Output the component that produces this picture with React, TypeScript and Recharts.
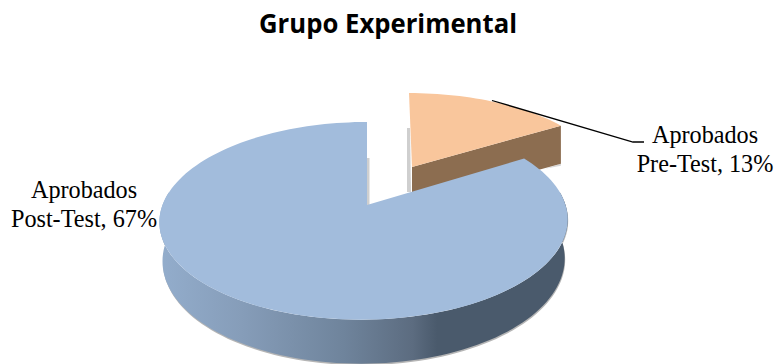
import { Pie, PieChart } from "recharts";

const categories = ["Aprobados Pre-Test", "Aprobados Post-Test"];
const percentages = [13, 67];
const topColors = ["#f9c69c", "#a2bcdc"];

const pieData = categories.map((name, i) => ({ name, value: percentages[i] }));

const PERSPECTIVE = 0.16;
const TILT = 0.478;

// how each slice sits in the fake 3d view, relative to the pie centre
const sliceViews = [
  { dx: 45, dy: -38, scaleX: 0.958, scaleY: 0.89, shift: -3, lean: 0 },
  { dx: 0, dy: 0, scaleX: 1, scaleY: 1, shift: 0, lean: 3 },
];

const labelSpots = [
  { x: 705, y: 143 },
  { x: 84, y: 198 },
];

const RAD = Math.PI / 180;

function project(angle: number, r: number, view: (typeof sliceViews)[number]) {
  const u = Math.cos(angle * RAD);
  const v = Math.sin(angle * RAD);
  const den = 1 + PERSPECTIVE * v;
  return {
    x: view.shift - view.lean * (1 - v) + (view.scaleX * r * u) / den,
    y: (-view.scaleY * r * TILT * v) / den,
    v,
  };
}

function arcPoints(from: number, to: number, r: number, view: (typeof sliceViews)[number]) {
  const steps = Math.max(2, Math.ceil(Math.abs(to - from) / 2));
  const pts = [];
  for (let i = 0; i <= steps; i++) {
    pts.push(project(from + ((to - from) * i) / steps, r, view));
  }
  return pts;
}

const toPath = (pts: { x: number; y: number }[]) =>
  "M" + pts.map((p) => `${p.x.toFixed(1)},${p.y.toFixed(1)}`).join("L") + "Z";

function Slice3D(props: any) {
  const { cx, cy, outerRadius, startAngle, endAngle, index } = props;
  const view = sliceViews[index];
  const ax = cx + view.dx;
  const ay = cy + view.dy;
  const arc = arcPoints(startAngle, endAngle, outerRadius, view);
  const top = toPath([{ x: 0, y: 0 }, ...arc]);
  const lower = (p: { x: number; y: number; v: number }) => ({
    x: p.x * 0.985,
    y: p.y + 38 - 6 * p.v,
  });

  if (index === 0) {
    const edge = arc[arc.length - 1];
    const wall = toPath([{ x: 0, y: 0 }, edge, { x: edge.x, y: edge.y + 38 }, { x: 0, y: 38 }]);
    return (
      <g transform={`translate(${ax},${ay})`}>
        <path d="M-5,-39L-2,-39L-1,25L-5,25Z" fill="#cfcfcf" />
        <path d={`M${edge.x - 16},${edge.y + 43}L${edge.x},${edge.y + 38}L${edge.x},${edge.y + 40}Z`} fill="#d6d6d6" />
        <path d={wall} fill="#8c6d50" />
        <path d={top} fill={topColors[index]} />
      </g>
    );
  }

  const front = arcPoints(172, 368, outerRadius, view);
  const wall = toPath([...front, ...[...front].reverse().map(lower)]);
  return (
    <g transform={`translate(${ax},${ay})`}>
      <path d="M0,-47L2.5,-47L2.5,0L0,0Z" fill="#cfcfcf" />
      <path d={wall} transform="translate(0.5,1.5)" fill="#b5b5b5" />
      <path d={wall} fill="url(#blueWall)" />
      <path d={top} fill={topColors[index]} />
    </g>
  );
}

function renderLabel(props: any) {
  const { index, name, value } = props;
  const spot = labelSpots[index];
  const [first, ...rest] = name.split(" ");
  return (
    <text
      x={spot.x}
      y={spot.y}
      textAnchor="middle"
      fontFamily="'Liberation Serif', serif"
      fontSize={24.2}
      fill="#000"
    >
      <tspan x={spot.x}>{first}</tspan>
      <tspan x={spot.x} dy={28.7}>{`${rest.join(" ")}, ${value}%`}</tspan>
    </text>
  );
}

function renderLeader(props: any) {
  if (props.index !== 0) return <g />;
  return <polyline points="492,100.5 633,142 644,142" fill="none" stroke="#000" strokeWidth={1.3} />;
}

export default function App() {
  return (
    <div style={{ position: "absolute", left: 0, top: 0, width: 774, height: 364 }}>
      <PieChart width={774} height={364} margin={{ top: 0, right: 0, bottom: 0, left: 0 }}>
        <defs>
          <linearGradient id="blueWall" x1="0" y1="0" x2="1" y2="0">
            <stop offset="0%" stopColor="#93adcc" />
            <stop offset="20%" stopColor="#869db9" />
            <stop offset="45%" stopColor="#6f849c" />
            <stop offset="62%" stopColor="#5c6c80" />
            <stop offset="68%" stopColor="#4a5a6c" />
            <stop offset="100%" stopColor="#4a5a6c" />
          </linearGradient>
        </defs>
        <text
          x={388}
          y={33}
          textAnchor="middle"
          fontFamily="'Open Sans', sans-serif"
          fontWeight={700}
          fontSize={27}
          textLength={258}
          lengthAdjust="spacingAndGlyphs"
          fill="#000"
        >
          Grupo Experimental
        </text>
        <Pie
          data={pieData}
          dataKey="value"
          nameKey="name"
          cx={367}
          cy={205}
          outerRadius={201.5}
          startAngle={90}
          endAngle={-270}
          stroke="none"
          isAnimationActive={false}
          shape={Slice3D}
          label={renderLabel}
          labelLine={renderLeader}
        />
      </PieChart>
    </div>
  );
}
